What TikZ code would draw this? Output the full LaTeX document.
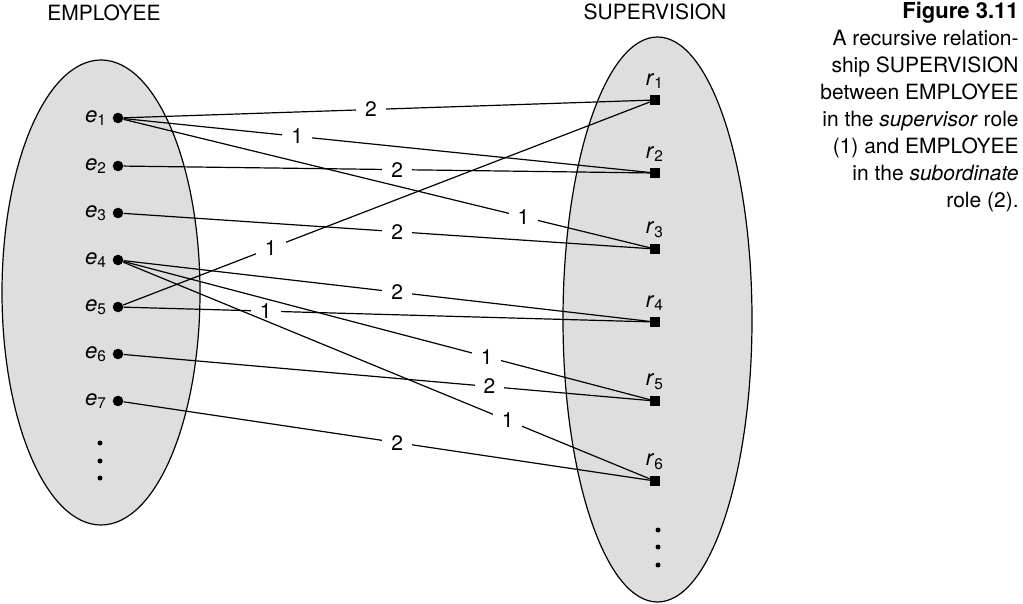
\documentclass[tikz,border=0pt]{standalone}
\usepackage{fontspec}
\setmainfont{TeX Gyre Heros}
\usepackage{xcolor}
\usetikzlibrary{positioning}

\begin{document}
\begin{tikzpicture}[
  x=0.5pt,y=-0.5pt,
  font=\fontsize{10.5}{12}\selectfont,
  set/.style={draw,line width=0.6pt,fill=black!13},
  edot/.style={circle,fill=black,inner sep=0pt,minimum size=5.3pt},
  rsq/.style={rectangle,fill=black,inner sep=0pt,minimum size=4.8pt},
  vdot/.style={circle,fill=black,inner sep=0pt,minimum size=2.5pt},
  elab/.style={font=\fontsize{11}{12}\selectfont,inner sep=2.5pt},
  rlab/.style={font=\fontsize{11}{12}\selectfont,inner sep=3pt},
  con/.style={line width=0.6pt},
  num/.style={fill=white,inner xsep=4.5pt,inner ysep=0pt}
]
\useasboundingbox (0,0) rectangle (1023,604);

% the two entity sets
\draw[set] (101,292.5) ellipse [x radius=99,y radius=232.5];
\draw[set] (657.5,319.5) ellipse [x radius=94.5,y radius=282.5];

\node (emptitle) at (104,13) {EMPLOYEE};
\node (suptitle) at (655,12) {SUPERVISION};

% employees
\node[edot,label={[elab]left:\textit{e}\textsubscript{1}}] (e1) at (118,118) {};
\node[edot,label={[elab]left:\textit{e}\textsubscript{2}}] (e2) at (118,166) {};
\node[edot,label={[elab]left:\textit{e}\textsubscript{3}}] (e3) at (118,213) {};
\node[edot,label={[elab]left:\textit{e}\textsubscript{4}}] (e4) at (118,260) {};
\node[edot,label={[elab]left:\textit{e}\textsubscript{5}}] (e5) at (118,307) {};
\node[edot,label={[elab]left:\textit{e}\textsubscript{6}}] (e6) at (118,354) {};
\node[edot,label={[elab]left:\textit{e}\textsubscript{7}}] (e7) at (118,401) {};
\node[vdot] (ed1) at (100,443) {};
\node[vdot] (ed2) at (100,461) {};
\node[vdot] (ed3) at (100,478) {};

% relationship instances
\node[rsq,label={[rlab]above:\textit{r}\textsubscript{1}}] (r1) at (655,100) {};
\node[rsq,label={[rlab]above:\textit{r}\textsubscript{2}}] (r2) at (655,173) {};
\node[rsq,label={[rlab]above:\textit{r}\textsubscript{3}}] (r3) at (655,249) {};
\node[rsq,label={[rlab]above:\textit{r}\textsubscript{4}}] (r4) at (655,322) {};
\node[rsq,label={[rlab]above:\textit{r}\textsubscript{5}}] (r5) at (655,401) {};
\node[rsq,label={[rlab]above:\textit{r}\textsubscript{6}}] (r6) at (655,481) {};
\node[vdot] (rd1) at (658,530) {};
\node[vdot] (rd2) at (658,547) {};
\node[vdot] (rd3) at (658,565) {};

\draw[con] (e1) -- node[num,pos=0.47] {2} (r1);
\draw[con] (e1) -- node[num,pos=0.33] {1} (r2);
\draw[con] (e1) -- node[num,pos=0.76] {1} (r3);
\draw[con] (e2) -- node[num,pos=0.52] {2} (r2);
\draw[con] (e3) -- node[num,pos=0.52] {2} (r3);
\draw[con] (e5) -- node[num,pos=0.28] {1} (r1);
\draw[con] (e5) -- node[num,pos=0.27] {1} (r4);
\draw[con] (e6) -- node[num,pos=0.695] {2} (r5);
\draw[con] (e7) -- node[num,pos=0.52] {2} (r6);
\draw[con] (e4) -- node[num,pos=0.52] {2} (r4);
\draw[con] (e4) -- node[num,pos=0.69] {1} (r5);
\draw[con] (e4) -- node[num,pos=0.73] {1} (r6);

\node[anchor=north east,inner sep=0pt,align=right,
      font=\fontsize{10.5}{13.5}\selectfont] (caption) at (1019,2)
  {{\fontsize{11}{13.5}\selectfont\bfseries Figure 3.11}\\
   A recursive relation-\\
   ship SUPERVISION\\
   between EMPLOYEE\\
   in the \textit{supervisor} role\\
   (1) and EMPLOYEE\\
   in the \textit{subordinate}\\
   role (2).};
\end{tikzpicture}
\end{document}
